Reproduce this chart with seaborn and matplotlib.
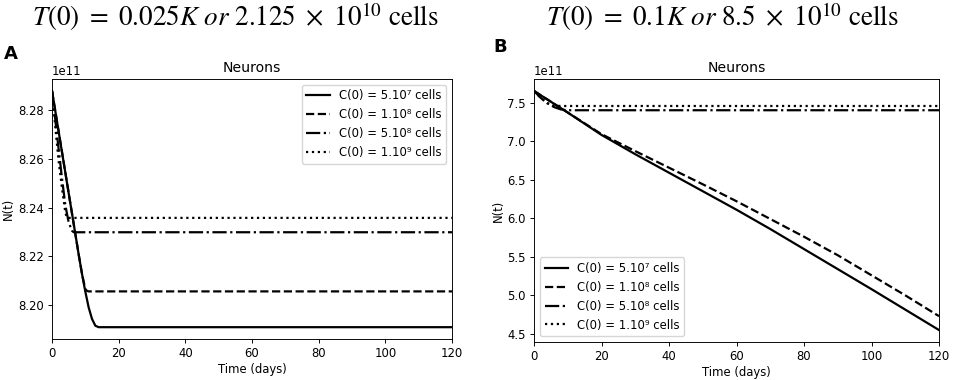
import numpy as np
import pandas as pd
import matplotlib
matplotlib.use("Agg")
import matplotlib.pyplot as plt
import seaborn as sns

# legend labels shared by both panels
labels = ["C(0) = 5.10⁷ cells", "C(0) = 1.10⁸ cells",
          "C(0) = 5.10⁸ cells", "C(0) = 1.10⁹ cells"]
styles = ["-", "--", "-.", ":"]

# Panel A: T(0) = 0.025K  (values in units of 1e11)
a_t_solid = [0, 2, 4, 6, 8, 9, 10, 11, 12, 13, 14, 120]
a_n_solid = [8.288, 8.2712, 8.2544, 8.2376, 8.2208, 8.2128, 8.2055, 8.1990, 8.1943, 8.1915, 8.1909, 8.1909]
a_t_dash = [0, 2, 4, 6, 8, 9, 10, 10.5, 11, 120]
a_n_dash = [8.288, 8.2712, 8.2544, 8.2376, 8.2208, 8.2128, 8.2065, 8.2058, 8.2056, 8.2056]
a_t_dashdot = [0, 1, 2, 3, 4, 5, 6, 6.5, 120]
a_n_dashdot = [8.288, 8.276, 8.264, 8.252, 8.241, 8.234, 8.2305, 8.2299, 8.2299]
a_t_dot = [0, 1, 2, 3, 4, 4.5, 120]
a_n_dot = [8.288, 8.273, 8.259, 8.248, 8.238, 8.2358, 8.2358]

# Panel B: T(0) = 0.1K
b_t = [0, 5, 10, 20, 30, 40, 50, 60, 70, 80, 90, 100, 110, 120]
b_n_solid = [7.65, 7.51, 7.37, 7.08, 6.83, 6.59, 6.35, 6.11, 5.86, 5.60, 5.34, 5.08, 4.815, 4.55]
b_n_dash = [7.65, 7.51, 7.37, 7.09, 6.87, 6.655, 6.44, 6.22, 5.99, 5.76, 5.52, 5.26, 5.00, 4.73]
b_t_dashdot = [0, 2, 4, 6, 8, 10, 120]
b_n_dashdot = [7.65, 7.56, 7.49, 7.44, 7.41, 7.40, 7.40]
b_t_dot = [0, 2, 4, 6, 8, 120]
b_n_dot = [7.65, 7.56, 7.49, 7.46, 7.455, 7.455]

panel_a = [(a_t_solid, a_n_solid), (a_t_dash, a_n_dash), (a_t_dashdot, a_n_dashdot), (a_t_dot, a_n_dot)]
panel_b = [(b_t, b_n_solid), (b_t, b_n_dash), (b_t_dashdot, b_n_dashdot), (b_t_dot, b_n_dot)]

k = 0.84  # the original is a default matplotlib figure shrunk a bit
plt.rcParams.update({
    "font.size": 10 * k,
    "axes.titlesize": 12 * k,
    "axes.titlepad": 6 * k,
    "axes.labelsize": 10 * k,
    "axes.linewidth": 0.8 * k,
    "xtick.major.size": 3.5 * k,
    "ytick.major.size": 3.5 * k,
    "xtick.major.width": 0.8 * k,
    "ytick.major.width": 0.8 * k,
    "xtick.major.pad": 3.5 * k,
    "ytick.major.pad": 3.5 * k,
    "legend.fontsize": 10 * k,
})

fig = plt.figure(figsize=(9.55, 3.8), dpi=100)
ax1 = fig.add_axes([52/955, 1-339/380, 400/955, 260/380])
ax2 = fig.add_axes([534/955, 1-342/380, 405/955, 263/380])

for ax, series, loc in [(ax1, panel_a, "upper right"), (ax2, panel_b, "lower left")]:
    for (t, n), ls, lab in zip(series, styles, labels):
        sns.lineplot(x=np.array(t), y=np.array(n) * 1e11, ax=ax, color="black",
                     linestyle=ls, linewidth=1.6, label=lab)
    ax.set_xlim(0, 120)
    ax.set_xticks([0, 20, 40, 60, 80, 100, 120])
    ax.set_title("Neurons")
    ax.set_xlabel("Time (days)", labelpad=2)
    ax.set_ylabel("N(t)", labelpad=2)
    ax.ticklabel_format(axis="y", style="sci", scilimits=(0, 0), useOffset=False)
    ax.legend(loc=loc)

ax1.set_yticks(np.array([8.20, 8.22, 8.24, 8.26, 8.28]) * 1e11)
ax2.set_yticks(np.array([4.5, 5.0, 5.5, 6.0, 6.5, 7.0, 7.5]) * 1e11)

# big headers above panels (serif math)
fig.text(235/955, 1-17/380, r"$T(0)\ =\ 0.025K\ or\ 2.125\ \times\ 10^{10}$ cells",
         ha="center", va="center", fontsize=19.5, family="STIXGeneral",
         math_fontfamily="stix")
fig.text(722/955, 1-17/380, r"$T(0)\ =\ 0.1K\ or\ 8.5\ \times\ 10^{10}$ cells",
         ha="center", va="center", fontsize=19.5, family="STIXGeneral",
         math_fontfamily="stix")
fig.text(4/955, 1-54/380, "A", fontsize=13, fontweight="bold", va="center")
fig.text(493/955, 1-47/380, "B", fontsize=13, fontweight="bold", va="center")

fig.savefig("out.png", dpi=100)
